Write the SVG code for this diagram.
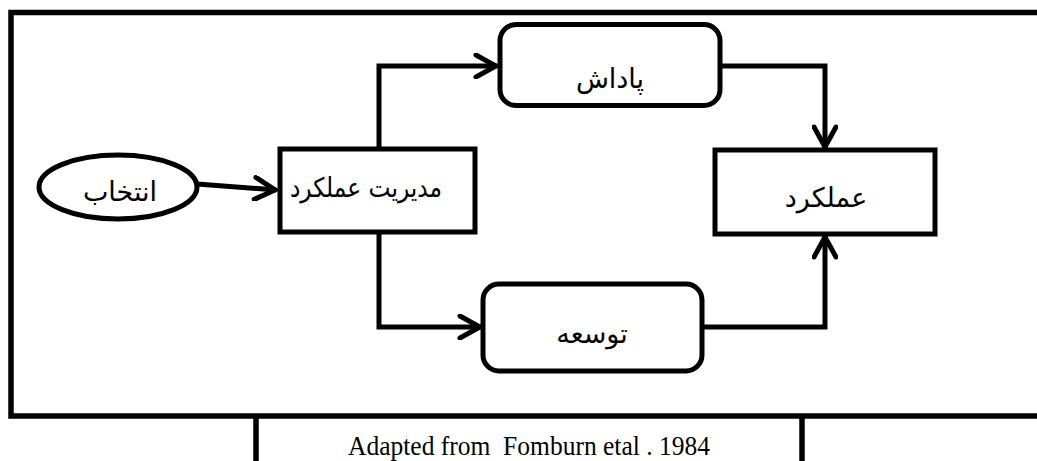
<svg xmlns="http://www.w3.org/2000/svg" width="1037" height="461" viewBox="0 0 1037 461">
  <style>
    .shape { fill: #ffffff; stroke: #000000; stroke-width: 5; }
    .line { fill: none; stroke: #000000; stroke-width: 5; stroke-linejoin: miter; }
    .fa { font-family: "DejaVu Sans", "Noto Sans", sans-serif; font-size: 27px; fill: #000000; text-anchor: middle; }
    .cap { font-family: "Liberation Serif", "Times New Roman", serif; font-size: 27px; fill: #000000; text-anchor: middle; }
  </style>
  <defs>
    <marker id="chevron" viewBox="-24 -13 28 26" refX="0" refY="0" markerWidth="28" markerHeight="26" markerUnits="userSpaceOnUse" orient="auto">
      <path d="M-21,-11 L-1,0 L-21,11" fill="none" stroke="#000000" stroke-width="5" stroke-linecap="round" stroke-linejoin="miter"/>
    </marker>
  </defs>

  <rect x="0" y="0" width="1037" height="461" fill="#ffffff"/>

  <!-- outer frame and caption strip -->
  <g id="frame">
    <rect x="11" y="12.5" width="1040" height="403.5" fill="none" stroke="#000000" stroke-width="5.5"/>
    <line x1="256" y1="416" x2="256" y2="465" stroke="#000000" stroke-width="5.5"/>
    <line x1="802" y1="416" x2="802" y2="465" stroke="#000000" stroke-width="5.5"/>
    <text class="cap" x="529" y="455" textLength="362" lengthAdjust="spacingAndGlyphs" xml:space="preserve">Adapted from  Fomburn etal . 1984</text>
  </g>

  <!-- connectors -->
  <g id="connectors">
    <path class="line" d="M197,184 L276,190" marker-end="url(#chevron)"/>
    <path class="line" d="M379,149 V66 H497" marker-end="url(#chevron)"/>
    <path class="line" d="M379,232 V327 H481" marker-end="url(#chevron)"/>
    <path class="line" d="M720,66 H825 V148" marker-end="url(#chevron)"/>
    <path class="line" d="M702,327 H825 V236" marker-end="url(#chevron)"/>
  </g>

  <g id="node-select">
    <ellipse class="shape" cx="118" cy="187" rx="79" ry="32"/>
    <text class="fa" x="120" y="201">انتخاب</text>
  </g>

  <g id="node-management">
    <rect class="shape" x="280" y="149" width="195" height="83"/>
    <text class="fa" x="366" y="197" font-size="24" textLength="152" lengthAdjust="spacingAndGlyphs">مدیریت عملکرد</text>
  </g>

  <g id="node-reward">
    <rect class="shape" x="500" y="24.5" width="220" height="81" rx="16" ry="16"/>
    <text class="fa" x="610" y="88">پاداش</text>
  </g>

  <g id="node-development">
    <rect class="shape" x="483" y="284" width="219" height="87" rx="16" ry="16"/>
    <text class="fa" x="592" y="343">توسعه</text>
  </g>

  <g id="node-performance">
    <rect class="shape" x="715" y="150" width="220" height="84"/>
    <text class="fa" x="826" y="207">عملکرد</text>
  </g>
</svg>
